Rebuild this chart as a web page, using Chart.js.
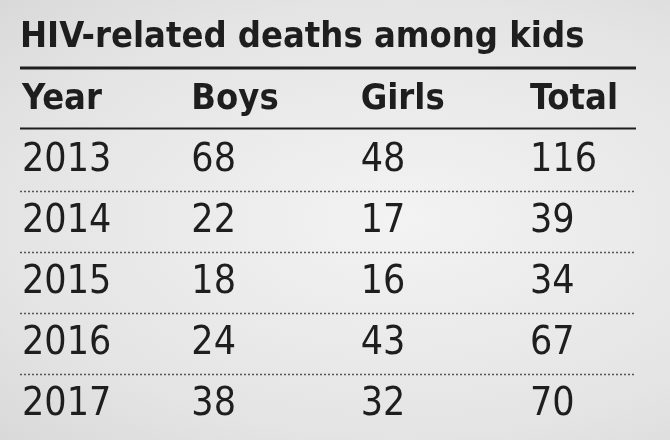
<!DOCTYPE html>
<html>
<head>
<meta charset="utf-8">
<script src="https://cdn.jsdelivr.net/npm/chart.js@4"></script>
<style>
  body { margin: 0; background: #e7e7e7; }
  #wrap { width: 670px; height: 440px; background: radial-gradient(ellipse at 60% 50%, #f3f3f3 0%, #e4e4e4 70%, #d9d9d9 100%); }
</style>
</head>
<body>
<div id="wrap"><canvas id="table" width="670" height="440"></canvas></div>
<script>
"use strict";

var title = "HIV-related deaths among kids";
var columns = ["Year", "Boys", "Girls", "Total"];
var years = ["2013", "2014", "2015", "2016", "2017"];
var boys = [68, 22, 18, 24, 38];
var girls = [48, 17, 16, 43, 32];
var total = [116, 39, 34, 67, 70];

var rowLabels = ["header"].concat(years);
var FONT = '"Liberation Sans Narrow", "DejaVu Sans Condensed", "Roboto", sans-serif';
var INK = "#1e1e1e";

// every cell is a point on the category grid
var points = [];
for (var i = 0; i < years.length; i++) {
    points.push({x: "Year", y: years[i], t: years[i]});
    points.push({x: "Boys", y: years[i], t: String(boys[i])});
    points.push({x: "Girls", y: years[i], t: String(girls[i])});
    points.push({x: "Total", y: years[i], t: String(total[i])});
}

var tablePlugin = {
    id: "tablePlugin",
    afterDraw: function(chart) {
        var ctx = chart.ctx;
        var xs = chart.scales.x;
        var ys = chart.scales.y;
        var left = 20, right = 636;
        ctx.save();
        ctx.fillStyle = INK;
        ctx.strokeStyle = INK;
        ctx.textBaseline = "middle";
        ctx.textAlign = "left";

        ctx.font = "bold 36px " + FONT;
        ctx.fillText(title, 20, 38);

        ctx.lineWidth = 3;
        ctx.beginPath();
        ctx.moveTo(left, 68); ctx.lineTo(right, 68);
        ctx.stroke();

        var hy = ys.getPixelForValue(0);
        ctx.font = "bold 36px " + FONT;
        for (var c = 0; c < columns.length; c++) {
            ctx.fillText(columns[c], xs.getPixelForValue(c), hy);
        }

        var step = ys.getPixelForValue(1) - hy;
        ctx.lineWidth = 2;
        ctx.beginPath();
        ctx.moveTo(left, hy + step / 2 - 2); ctx.lineTo(right, hy + step / 2 - 2);
        ctx.stroke();

        ctx.font = "39px " + FONT;
        var meta = chart.getDatasetMeta(0);
        meta.data.forEach(function(el, k) {
            ctx.fillText(points[k].t, el.x, el.y);
        });

        ctx.setLineDash([2, 2]);
        ctx.lineWidth = 1.5;
        ctx.strokeStyle = "#555";
        for (var r = 1; r < years.length; r++) {
            var ly = (ys.getPixelForValue(r) + ys.getPixelForValue(r + 1)) / 2;
            ctx.beginPath();
            ctx.moveTo(left, ly); ctx.lineTo(right, ly);
            ctx.stroke();
        }
        ctx.restore();
    }
};

new Chart(document.getElementById("table").getContext("2d"), {
    type: "scatter",
    data: {
        datasets: [{
            data: points,
            pointRadius: 0,
            pointHoverRadius: 0
        }]
    },
    options: {
        responsive: false,
        animation: false,
        events: [],
        layout: { padding: { left: 22, right: 140, top: 100, bottom: 35 } },
        plugins: { legend: { display: false }, tooltip: { enabled: false } },
        scales: {
            x: { type: "category", labels: columns, offset: false, display: false },
            y: { type: "category", labels: rowLabels, offset: false, display: false }
        }
    },
    plugins: [tablePlugin]
});
</script>
</body>
</html>
